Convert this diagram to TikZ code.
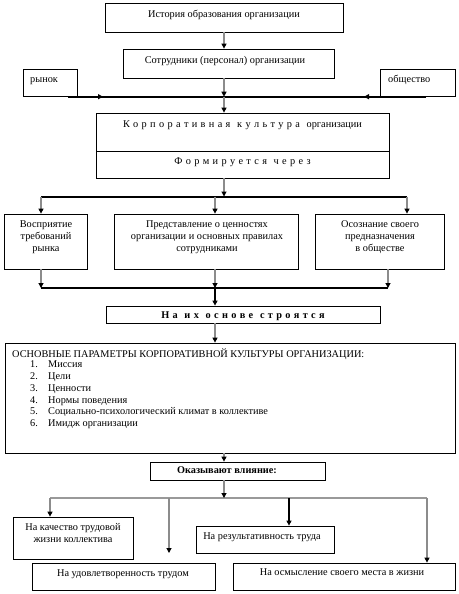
\documentclass[tikz,border=0pt]{standalone}
\usepackage{fontspec}
\setmainfont{Liberation Serif}
\usetikzlibrary{arrows.meta}
\newcommand{\spacedfont}{\spaceskip=3.35pt\relax}
\begin{document}
\begin{tikzpicture}[x=1pt,y=-1pt,
  box/.style={draw=black, line width=0.8pt, fill=white, inner sep=0pt},
  txt/.style={font=\fontsize{10.3}{12}\selectfont, inner sep=0pt, text height=7pt, text depth=2pt},
  ltxt/.style={font=\fontsize{10.3}{12}\selectfont, inner sep=0pt, text height=6.5pt, text depth=1pt, anchor=base west},
  mtxt/.style={font=\fontsize{10.3}{12}\selectfont, inner sep=0pt, align=center},
  thickln/.style={line width=2pt, draw=black},
  grayln/.style={line width=1.4pt, draw=black!40},
  tip/.style={-{Triangle[length=5pt,width=5pt,color=black]}},
  conn/.style={draw=black!45, line width=1.1pt, tip},
  connb/.style={draw=black, line width=1.1pt, tip},
]
\useasboundingbox (0,0) rectangle (458,594);

% ---- boxes ----
\node[box, minimum width=238, minimum height=29] (hist) at (224,17.5) {};
\node[box, minimum width=211, minimum height=29] (staff) at (228.5,63.5) {};
\node[box, minimum width=54, minimum height=27] (rynok) at (50,82.5) {};
\node[box, minimum width=75, minimum height=27] (obsh) at (417.5,82.5) {};
\node[box, minimum width=293, minimum height=38] (corpTop) at (242.5,132) {};
\node[box, minimum width=293, minimum height=27] (corpBot) at (242.5,164.5) {};
\node[box, minimum width=83, minimum height=55] (perc) at (45.5,241.5) {};
\node[box, minimum width=184, minimum height=55] (repr) at (206,241.5) {};
\node[box, minimum width=129, minimum height=55] (osoz) at (379.5,241.5) {};
\node[box, minimum width=274, minimum height=17] (osn) at (243,314.5) {};
\node[box, minimum width=450, minimum height=110] (main) at (230,398) {};
\node[box, minimum width=175, minimum height=18] (okaz) at (237.5,471) {};
\node[box, minimum width=120, minimum height=42] (kach) at (73,538) {};
\node[box, minimum width=138, minimum height=27] (result) at (265,539.5) {};
\node[box, minimum width=183, minimum height=27] (udovl) at (123.5,576.5) {};
\node[box, minimum width=222, minimum height=27] (osm) at (344,576.5) {};

% ---- texts ----
\node[txt] (histT) at (224,15) {История образования организации};
\node[txt] (staffT) at (225,61) {Сотрудники (персонал) организации};
\node[txt, anchor=west] (rynokT) at (30,80) {рынок};
\node[txt, anchor=west] (obshT) at (388,80) {общество};
\node[txt] (corpT) at (242.5,125) {\spacedfont К о р п о р а т и в н а я\ \ к у л ь т у р а\ \ организации};
\node[txt] (formT) at (242.5,162) {\spacedfont Ф о р м и р у е т с я\ \ ч е р е з};
\node[mtxt] (percT) at (46,237) {Восприятие\\требований\\рынка};
\node[mtxt] (reprT) at (207,237) {Представление о ценностях\\организации и основных правилах\\сотрудниками};
\node[mtxt] (osozT) at (380,237) {Осознание своего\\предназначения\\в обществе};
\node[txt, font=\fontsize{10.3}{12}\selectfont\bfseries] (osnT) at (243,315.5) {\spacedfont Н а\ \ и х\ \ о с н о в е\ \ с т р о я т с я};
\node[ltxt] (headT) at (12,357.5) {ОСНОВНЫЕ ПАРАМЕТРЫ КОРПОРАТИВНОЙ КУЛЬТУРЫ ОРГАНИЗАЦИИ:};
\foreach \n/\t/\yy in {1/Миссия/367, 2/Цели/379, 3/Ценности/391, 4/Нормы поведения/403, 5/Социально-психологический климат в коллективе/414.8, 6/Имидж организации/426.6}{
  \node[ltxt] (num\n) at (30,\yy) {\n.};
  \node[ltxt] (item\n) at (48,\yy) {\t};
}
\node[txt, font=\fontsize{10.3}{12}\selectfont\bfseries] (okazT) at (227,471) {Оказывают влияние:};
\node[mtxt] (kachT) at (73,533) {На качество трудовой\\жизни коллектива};
\node[txt] (resultT) at (262,537) {На результативность труда};
\node[txt] (udovlT) at (123,573.5) {На удовлетворенность трудом};
\node[txt] (osmT) at (342,573) {На осмысление своего места в жизни};

% ---- coordinates ----
\coordinate (c1) at (224,96.7);
\coordinate (l1a) at (68,96.7);
\coordinate (l1b) at (426,96.7);
\coordinate (l1p) at (103,96.7);
\coordinate (l1q) at (364,96.7);
\coordinate (l2c) at (224,196.5);
\coordinate (l2a) at (41,196.5);
\coordinate (l2m) at (215,196.5);
\coordinate (l2b) at (407,196.5);
\coordinate (l3a) at (41,288);
\coordinate (l3m) at (215,288);
\coordinate (l3b) at (388,288);
\coordinate (l4c) at (224,498);
\coordinate (l4a) at (50,498);
\coordinate (l4d) at (169,498);
\coordinate (l4e) at (169,553);
\coordinate (l4r) at (289,498);
\coordinate (l4b) at (427,498);

% ---- horizontal bars ----
\draw[thickln] (l1a) -- (l1b);
\draw[thickln, tip] (l1a) -- (l1p);
\draw[thickln, tip] (l1b) -- (l1q);
\draw[thickln] (l2a) -- (l2b);
\draw[thickln] (l3a) -- (l3b);
\draw[grayln] (l4a) -- (l4b);

% ---- connectors ----
\draw[conn] (hist.south -| c1) -- (staff.north -| c1);
\draw[conn] (staff.south -| c1) -- (c1);
\draw[conn] (c1) -- (corpTop.north -| c1);
\draw[conn] (corpBot.south -| l2c) -- (l2c);
\draw[conn] (l2a) -- (perc.north -| l2a);
\draw[conn] (l2m) -- (repr.north -| l2m);
\draw[conn] (l2b) -- (osoz.north -| l2b);
\draw[conn] (perc.south -| l3a) -- (l3a);
\draw[conn] (repr.south -| l3m) -- (l3m);
\draw[conn] (osoz.south -| l3b) -- (l3b);
\draw[connb, line width=1.6pt] (l3m) -- (osn.north -| l3m);
\draw[conn] (osn.south -| l3m) -- (main.north -| l3m);
\draw[conn] (main.south -| c1) -- (okaz.north -| c1);
\draw[conn] (okaz.south -| c1) -- (l4c);
\draw[conn] (l4a) -- (kach.north -| l4a);
\draw[conn] (l4d) -- (l4e);
\draw[connb] (l4r) -- (result.north -| l4r);
\draw[conn] (l4b) -- (osm.north -| l4b);
\end{tikzpicture}
\end{document}
